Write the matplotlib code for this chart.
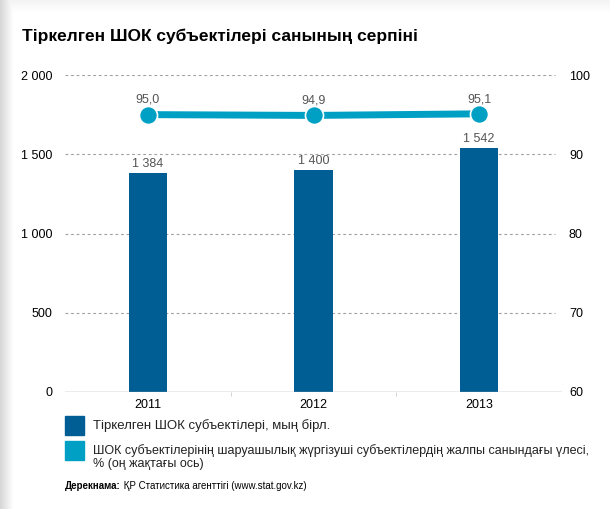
import numpy as np
import matplotlib.pyplot as plt
from matplotlib.patches import Rectangle

plt.rcParams['font.family'] = ['Liberation Sans', 'DejaVu Sans']

years = ['2011', '2012', '2013']
counts = [1384, 1400, 1542]          # мың бірл. (bars, left axis)
shares = [95.0, 94.9, 95.1]          # % (line, right axis)
count_labels = ['1 384', '1 400', '1 542']
share_labels = ['95,0', '94,9', '95,1']
left_ticks = [0, 500, 1000, 1500, 2000]
left_ticklabels = ['0', '500', '1 000', '1 500', '2 000']
right_ticks = [60, 70, 80, 90, 100]

bar_c = '#005e95'
line_c = '#00a0c4'
grid_c = '#a0a0a0'

fig = plt.figure(figsize=(6.10, 5.09), dpi=100, facecolor='white')

# page shadow on the left/top edges
bg = fig.add_axes([0, 0, 1, 1], zorder=-10)
W, H = 610, 509
xs = np.arange(W)
ys = np.arange(H)
left = np.clip((13 - xs) / 13, 0, 1)[None, :]
top = np.clip((13 - ys) / 13, 0, 1)[:, None]
shade = np.maximum(left * 0.16, top * 0.05)
bg.imshow(1 - shade, cmap='gray', vmin=0, vmax=1, extent=[0, 1, 0, 1], aspect='auto')
bg.axis('off')

ax = fig.add_axes([65 / 610, 1 - 392 / 509, (562 - 65) / 610, (392 - 75) / 509])
ax.set_facecolor('none')
x = np.arange(len(years))
ax.bar(x, counts, width=0.23, color=bar_c, zorder=3)
for xi, v, lab in zip(x, counts, count_labels):
    ax.text(xi, v + 18, lab, ha='center', va='bottom', fontsize=9, color='#555555')

ax.set_xlim(-0.5, 2.5)
ax.set_ylim(0, 2000)
ax.set_yticks(left_ticks)
ax.set_yticklabels(left_ticklabels)
ax.set_xticks(x)
ax.set_xticklabels(years)
ax.set_xticks([0.5, 1.5], minor=True)
ax.tick_params(axis='x', which='major', length=0, pad=5, labelsize=9)
ax.tick_params(axis='x', which='minor', length=3, color='#cccccc')
ax.tick_params(axis='y', length=0, pad=9, labelsize=9)
for s in ax.spines.values():
    s.set_visible(False)
ax.axhline(0, color=grid_c, lw=1, zorder=4)
for t in left_ticks[1:]:
    ax.plot([-0.5, 2.46], [t, t], color=grid_c, lw=0.8, dashes=(2.5, 2.5), zorder=1)

ax2 = ax.twinx()
ax2.set_ylim(60, 100)
ax2.set_yticks(right_ticks)
ax2.tick_params(axis='y', length=0, pad=5, labelsize=9)
for s in ax2.spines.values():
    s.set_visible(False)
ax2.plot(x, shares, color=line_c, lw=5, marker='o', ms=13, mfc=line_c,
         mec='white', mew=1.2, zorder=5, solid_capstyle='butt')
for xi, v, lab in zip(x, shares, share_labels):
    ax2.text(xi, v + 1.1, lab, ha='center', va='bottom', fontsize=9, color='#555555')

# title
fig.text(22 / 610, 1 - 36 / 509, 'Тіркелген ШОК субъектілері санының серпіні',
         fontsize=12.5, fontweight='bold', va='center', ha='left')

# legend
fig.patches.append(Rectangle((65 / 610, 1 - 435 / 509), 19 / 610, 19 / 509,
                             transform=fig.transFigure, color=bar_c))
fig.text(93 / 610, 1 - 426 / 509, 'Тіркелген ШОК субъектілері, мың бірл.',
         fontsize=9.5, va='center', color='#222222')
fig.patches.append(Rectangle((65 / 610, 1 - 460 / 509), 19 / 610, 19 / 509,
                             transform=fig.transFigure, color=line_c))
fig.text(93 / 610, 1 - 451 / 509,
         'ШОК субъектілерінің шаруашылық жүргізуші субъектілердің жалпы санындағы үлесі,',
         fontsize=9.0, va='center', color='#222222')
fig.text(93 / 610, 1 - 464 / 509, '% (оң жақтағы ось)',
         fontsize=9.0, va='center', color='#222222')

# source: bold label, then plain text right after it
src = fig.text(65 / 610, 1 - 489 / 509, 'Дерекнама:', fontsize=7, fontweight='bold',
               va='baseline')
fig.texts.append(plt.Annotation(' ҚР Статистика агенттігі (www.stat.gov.kz)',
                                xy=(1, 0), xycoords=src, xytext=(0, 0),
                                textcoords='offset points', fontsize=7,
                                va='bottom', ha='left'))
fig.texts[-1].set_figure(fig)

plt.savefig('out.png', dpi=100, facecolor='white')
